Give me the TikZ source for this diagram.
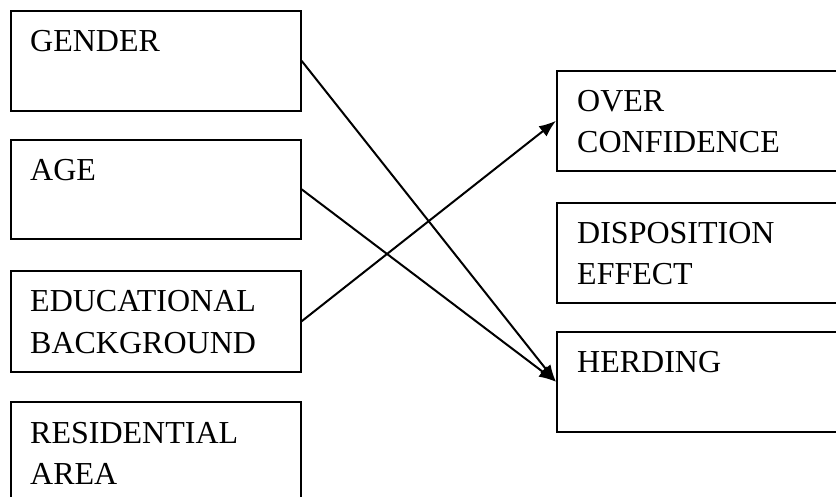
\documentclass[tikz,border=0pt]{standalone}
\usepackage{fontspec}
\setmainfont{Liberation Serif}
\usetikzlibrary{arrows.meta}
\begin{document}
\begin{tikzpicture}[x=1bp,y=-1bp,
  box/.style={draw=black,line width=1.6bp,rectangle,inner sep=0pt,anchor=north west},
  lbl/.style={anchor=base west,inner sep=0pt,align=left,font=\fontsize{32bp}{41bp}\selectfont},
  conn/.style={line width=2bp,-{Latex[length=17bp,width=13bp]}}]
\useasboundingbox (0,0) rectangle (836,497);
% left boxes
\node[box,minimum width=290bp,minimum height=100bp] (gender) at (10,10) {};
\node[lbl] (tgender) at (30,52) {GENDER};
\node[box,minimum width=290bp,minimum height=99bp] (age) at (10,139) {};
\node[lbl] (tage) at (30,181) {AGE};
\node[box,minimum width=290bp,minimum height=101bp] (edu) at (10,270) {};
\node[lbl] (tedu) at (30,353) {EDUCATIONAL\\BACKGROUND};
\node[box,minimum width=290bp,minimum height=120bp] (res) at (10,401) {};
\node[lbl] (tres) at (30,484) {RESIDENTIAL\\AREA};
% right boxes
\node[box,minimum width=290bp,minimum height=100bp] (over) at (556,70) {};
\node[lbl] (tover) at (577,153) {OVER\\CONFIDENCE};
\node[box,minimum width=290bp,minimum height=100bp] (disp) at (556,202) {};
\node[lbl] (tdisp) at (577,285) {DISPOSITION\\EFFECT};
\node[box,minimum width=290bp,minimum height=100bp] (herd) at (556,331) {};
\node[lbl] (therd) at (577,372) {HERDING};
% connectors
\draw[conn] (gender.east) -- (herd.west);
\draw[conn] (age.east) -- (herd.west);
\draw[conn] (edu.east) -- (over.west);
\end{tikzpicture}
\end{document}
